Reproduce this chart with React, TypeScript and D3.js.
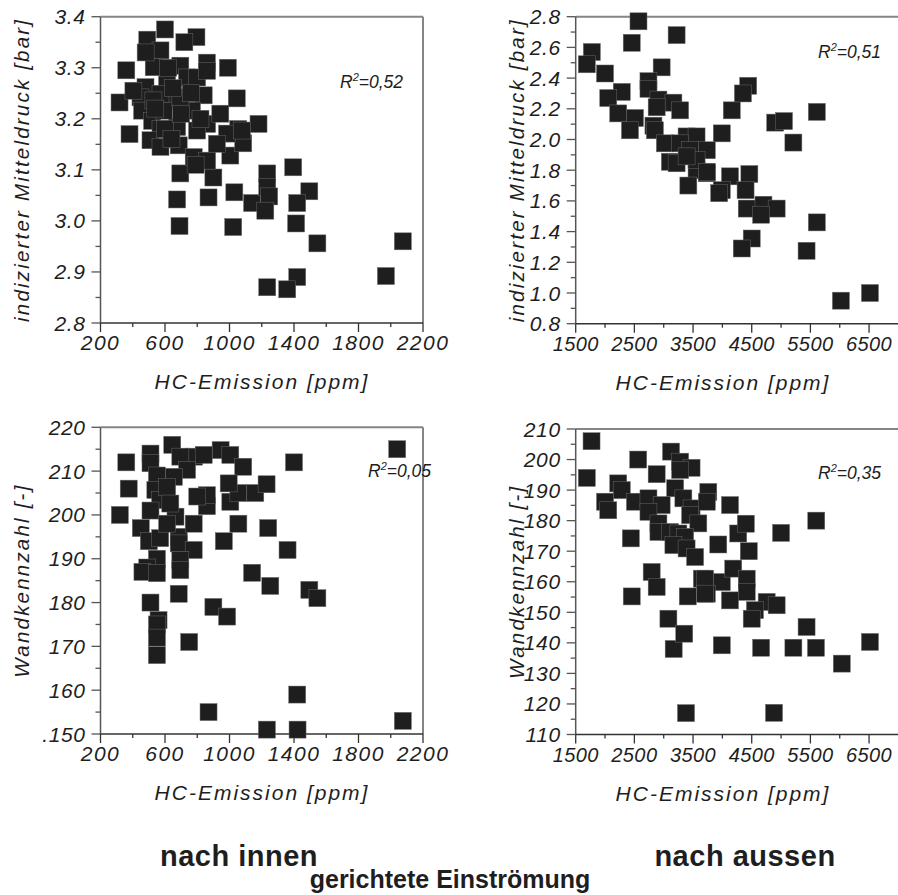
import React from "react";
import * as d3 from "d3";

// HC-Emission [ppm] vs. indizierter Mitteldruck [bar], nach innen gerichtet
const innenMitteldruck: [number, number][] = [
  [600, 3.375], [490, 3.355], [795, 3.36], [720, 3.35], [360, 3.295], [990, 3.3],
  [860, 3.31], [318, 3.232], [380, 3.17], [1180, 3.19], [1045, 3.24], [695, 3.093],
  [675, 3.042], [870, 3.046], [1030, 3.056], [1140, 3.035], [1005, 3.128], [900, 3.085],
  [1085, 3.152], [1395, 3.105], [1234, 3.093], [1495, 3.058], [1234, 3.066], [1246, 3.048],
  [1420, 3.035], [1222, 3.02], [1413, 2.995], [1545, 2.956], [2075, 2.96], [1420, 2.89],
  [1234, 2.87], [1358, 2.866], [1970, 2.892], [1023, 2.988], [1054, 3.18], [690, 2.99],
  [572, 3.334], [530, 3.301], [479, 3.262], [448, 3.242], [458, 3.216], [520, 3.196],
  [572, 3.18], [510, 3.158], [572, 3.145], [685, 3.148], [675, 3.184], [695, 3.304],
  [737, 3.281], [799, 3.281], [840, 3.246], [767, 3.216], [861, 3.19], [799, 3.177],
  [943, 3.21], [985, 3.171], [922, 3.151], [1077, 3.177], [778, 3.125], [633, 3.236],
  [613, 3.268], [592, 3.216], [695, 3.242], [572, 3.249], [528, 3.236], [404, 3.255],
  [861, 3.294], [861, 3.118], [790, 3.11], [480, 3.33], [620, 3.3], [650, 3.26],
  [540, 3.22], [600, 3.18], [640, 3.16], [700, 3.21], [760, 3.25], [820, 3.2],
];

// nach aussen gerichtet
const aussenMitteldruck: [number, number][] = [
  [2570, 2.77], [3220, 2.68], [2455, 2.63], [1775, 2.57], [1690, 2.49], [2000, 2.43],
  [2965, 2.47], [2740, 2.38], [2740, 2.33], [2285, 2.31], [2055, 2.27], [2910, 2.26],
  [3165, 2.24], [3280, 2.19], [2880, 2.21], [2225, 2.17], [2510, 2.14], [2425, 2.06],
  [2825, 2.09], [2850, 2.06], [3020, 1.975], [3390, 2.02], [3560, 2.02], [3280, 1.975],
  [3450, 1.93], [3735, 1.93], [3105, 1.855], [3220, 1.845], [3560, 1.8], [3735, 1.78],
  [3420, 1.7], [3990, 2.04], [4160, 2.19], [4130, 1.76], [3990, 1.67], [3560, 1.865],
  [3390, 1.89], [3735, 1.79], [4460, 1.775], [3945, 1.65], [4395, 1.67], [4415, 1.55],
  [4700, 1.575], [4925, 1.55], [4660, 1.51], [5610, 1.46], [4500, 1.355], [4330, 1.29],
  [5435, 1.275], [6020, 0.95], [6515, 1.0], [5210, 1.98], [4440, 2.35], [4350, 2.3],
  [5610, 2.18], [4900, 2.11], [5050, 2.12],
];

// HC-Emission [ppm] vs. Wandkennzahl [-]
const innenWandkennzahl: [number, number][] = [
  [360, 212], [375, 206], [320, 200], [645, 216], [510, 214], [510, 211.8], [550, 209],
  [540, 205.7], [570, 203.4], [510, 201], [450, 197], [500, 194], [570, 194.7], [665, 199.6],
  [685, 195], [685, 193.5], [778, 198], [778, 192], [695, 189.7], [695, 187.4], [550, 190],
  [490, 188], [460, 187], [550, 186.7], [685, 182], [510, 180], [560, 176], [900, 179],
  [985, 176.8], [1140, 186.8], [965, 194], [1055, 198], [1005, 203], [1055, 205], [860, 202],
  [860, 204.5], [800, 204.2], [945, 214.8], [1005, 213.7], [1085, 211], [995, 207.2],
  [1160, 205], [780, 213.3], [840, 213.7], [695, 213.3], [737, 210.3], [655, 208.7],
  [613, 206.4], [633, 202.6], [613, 198], [1253, 183.8], [1495, 182.9], [1545, 181],
  [1420, 159], [1232, 151], [1422, 151], [2075, 153], [2040, 215], [870, 155], [550, 175],
  [550, 172], [550, 168], [750, 171], [1400, 212], [1240, 197], [1360, 192], [1230, 207],
];

const aussenWandkennzahl: [number, number][] = [
  [1770, 206], [1690, 194], [2565, 200], [3125, 202.6], [3280, 199.3], [3475, 197.3],
  [3280, 196.6], [2880, 195.2], [2225, 192.2], [2285, 190], [3195, 190.6], [3760, 189.4],
  [2000, 186.2], [2055, 183.4], [2510, 186.2], [2740, 187.3], [2965, 185.1], [2740, 182.9],
  [3335, 187.3], [3475, 184], [3735, 186.2], [4130, 185.1], [3450, 181.8], [3590, 179.1],
  [2910, 179.1], [2910, 176.3], [3105, 176.3], [3250, 175.8], [3365, 174.7], [3165, 172],
  [3390, 170.9], [3535, 168.1], [2440, 174.2], [3930, 172.2], [4270, 175.8], [2795, 163.2],
  [2880, 158.3], [3650, 161], [3990, 159.9], [4185, 164.3], [2455, 155.2], [3410, 155.2],
  [3735, 156.1], [4130, 153.9], [3080, 147.9], [4415, 161], [3705, 161], [3705, 156.1],
  [4415, 156.7], [4755, 153.4], [4925, 152.3], [4555, 150.7], [4500, 147.9], [5435, 145.2],
  [3990, 139.2], [4660, 138.4], [5210, 138.4], [5595, 138.4], [6035, 133.2], [6515, 140.3],
  [4880, 117.1], [3380, 117], [3170, 138], [3350, 143], [5600, 180], [5000, 176],
  [4400, 179], [4450, 170],
];

const ppmTicksInnen = [200, 600, 1000, 1400, 1800, 2200];
const ppmMinorInnen = [400, 800, 1200, 1600, 2000];
const ppmTicksAussen = [1500, 2500, 3500, 4500, 5500, 6500];
const ppmMinorAussen = [2000, 3000, 4000, 5000, 6000];
const mdTicksInnen = [2.8, 2.9, 3.0, 3.1, 3.2, 3.3, 3.4];
const mdTicksAussen = [0.8, 1.0, 1.2, 1.4, 1.6, 1.8, 2.0, 2.2, 2.4, 2.6, 2.8];
const wkTicksInnen = [150, 160, 170, 180, 190, 200, 210, 220];
const wkLabelsInnen = [".150", "160", "170", "180", "190", "200", "210", "220"];
const wkTicksAussen = [110, 120, 130, 140, 150, 160, 170, 180, 190, 200, 210];

const FONT = "'Liberation Sans', Arial, Helvetica, sans-serif";
const INK = "#1e1e1e";

type PanelProps = {
  data: [number, number][];
  box: { left: number; right: number; top: number; bottom: number };
  xDomain: [number, number];
  yDomain: [number, number];
  xTicks: number[];
  xMinor: number[];
  yTicks: number[];
  yLabels: string[];
  xFont: number;
  xSpacing: number;
  xTitleX: number;
  yTitle: string;
  yTitleX: number;
  r2: string;
  r2X: number;
  r2Y: number;
  rightBorder: boolean;
};

function Panel(p: PanelProps) {
  const { left, right, top, bottom } = p.box;
  const x = d3.scaleLinear().domain(p.xDomain).range([left, right]);
  const y = d3.scaleLinear().domain(p.yDomain).range([bottom, top]);
  // minor y ticks halfway between the labelled ones
  const yMinor = p.yTicks.slice(0, -1).map((v, i) => (v + p.yTicks[i + 1]) / 2);
  const size = 17;

  return (
    <g fontFamily={FONT} fill={INK}>
      <line x1={left} x2={right} y1={top} y2={top} stroke="#858585" strokeWidth={2} />
      {p.rightBorder && (
        <line x1={right} x2={right} y1={top} y2={bottom} stroke="#858585" strokeWidth={2} />
      )}
      <line x1={left} x2={left} y1={top} y2={bottom} stroke="#555" strokeWidth={1.5} />
      <line x1={left} x2={right} y1={bottom} y2={bottom} stroke="#333" strokeWidth={1.5} />

      {p.yTicks.map((v, i) => (
        <g key={"y" + v}>
          <line x1={left - 9} x2={left} y1={y(v)} y2={y(v)} stroke="#555" strokeWidth={1.3} />
          <text x={left - 15} y={y(v) + 7.5} textAnchor="end" fontSize={21} fontStyle="italic" letterSpacing={0.6}>
            {p.yLabels[i]}
          </text>
        </g>
      ))}
      {yMinor.map((v) => (
        <line key={"ym" + v} x1={left - 5} x2={left} y1={y(v)} y2={y(v)} stroke="#555" strokeWidth={1.3} />
      ))}

      {p.xTicks.map((v) => (
        <g key={"x" + v}>
          <line x1={x(v)} x2={x(v)} y1={bottom} y2={bottom + 9} stroke="#333" strokeWidth={1.3} />
          <text x={x(v)} y={bottom + 27} textAnchor="middle" fontSize={p.xFont} fontStyle="italic" letterSpacing={p.xSpacing}>
            {v}
          </text>
        </g>
      ))}
      {p.xMinor.map((v) => (
        <line key={"xm" + v} x1={x(v)} x2={x(v)} y1={bottom} y2={bottom + 4} stroke="#333" strokeWidth={1.3} />
      ))}

      {p.data.map(([vx, vy], i) => (
        <rect
          key={i}
          x={x(vx) - size / 2}
          y={y(vy) - size / 2}
          width={size}
          height={size}
          fill={INK}
          stroke="#6a6a6a"
          strokeWidth={0.5}
        />
      ))}

      <text x={p.r2X} y={p.r2Y} fontSize={17.5} fontStyle="italic">
        R<tspan fontSize={11} dy={-7}>2</tspan>
        <tspan dy={7}>{"=" + p.r2}</tspan>
      </text>

      <text
        transform={`translate(${p.yTitleX},${(top + bottom) / 2}) rotate(-90)`}
        textAnchor="middle"
        fontSize={20.5}
        fontStyle="italic"
        letterSpacing={2.2}
      >
        {p.yTitle}
      </text>
      <text x={p.xTitleX} y={bottom + 66} textAnchor="middle" fontSize={21} fontStyle="italic" letterSpacing={2}>
        HC-Emission [ppm]
      </text>
    </g>
  );
}

export default function App() {
  const fmt1 = d3.format(".1f");
  return (
    <svg
      width={898}
      height={895}
      viewBox="0 0 898 895"
      style={{ position: "absolute", left: 0, top: 0, background: "#fff" }}
    >
      <rect width={898} height={895} fill="#fff" />
      <Panel
        data={innenMitteldruck}
        box={{ left: 100.5, right: 423, top: 16.7, bottom: 323 }}
        xDomain={[200, 2200]}
        yDomain={[2.8, 3.4]}
        xTicks={ppmTicksInnen}
        xMinor={ppmMinorInnen}
        yTicks={mdTicksInnen}
        yLabels={mdTicksInnen.map(fmt1)}
        xFont={21}
        xSpacing={1.5}
        xTitleX={262}
        yTitle="indizierter Mitteldruck [bar]"
        yTitleX={29}
        r2="0,52"
        r2X={340}
        r2Y={88}
        rightBorder={true}
      />
      <Panel
        data={aussenMitteldruck}
        box={{ left: 575.7, right: 898.4, top: 16.7, bottom: 323.7 }}
        xDomain={[1500, 7000]}
        yDomain={[0.8, 2.8]}
        xTicks={ppmTicksAussen}
        xMinor={ppmMinorAussen}
        yTicks={mdTicksAussen}
        yLabels={mdTicksAussen.map(fmt1)}
        xFont={20}
        xSpacing={0.4}
        xTitleX={723}
        yTitle="indizierter Mitteldruck [bar]"
        yTitleX={524}
        r2="0,51"
        r2X={818}
        r2Y={58}
        rightBorder={false}
      />
      <Panel
        data={innenWandkennzahl}
        box={{ left: 100.5, right: 423, top: 427.3, bottom: 734 }}
        xDomain={[200, 2200]}
        yDomain={[150, 220]}
        xTicks={ppmTicksInnen}
        xMinor={ppmMinorInnen}
        yTicks={wkTicksInnen}
        yLabels={wkLabelsInnen}
        xFont={21}
        xSpacing={1.5}
        xTitleX={262}
        yTitle="Wandkennzahl [-]"
        yTitleX={29}
        r2="0,05"
        r2X={368}
        r2Y={477}
        rightBorder={true}
      />
      <Panel
        data={aussenWandkennzahl}
        box={{ left: 575.7, right: 898.4, top: 429, bottom: 734.5 }}
        xDomain={[1500, 7000]}
        yDomain={[110, 210]}
        xTicks={ppmTicksAussen}
        xMinor={ppmMinorAussen}
        yTicks={wkTicksAussen}
        yLabels={wkTicksAussen.map(String)}
        xFont={20}
        xSpacing={0.4}
        xTitleX={723}
        yTitle="Wandkennzahl [-]"
        yTitleX={524}
        r2="0,35"
        r2X={818}
        r2Y={479}
        rightBorder={false}
      />
      <g fontFamily={FONT} fontWeight="bold" fill={INK} textAnchor="middle">
        <text x={239} y={866} fontSize={29} letterSpacing={0.5}>nach innen</text>
        <text x={745} y={866} fontSize={29} letterSpacing={0.5}>nach aussen</text>
        <text x={450} y={888} fontSize={25} letterSpacing={0}>gerichtete Einströmung</text>
      </g>
    </svg>
  );
}
